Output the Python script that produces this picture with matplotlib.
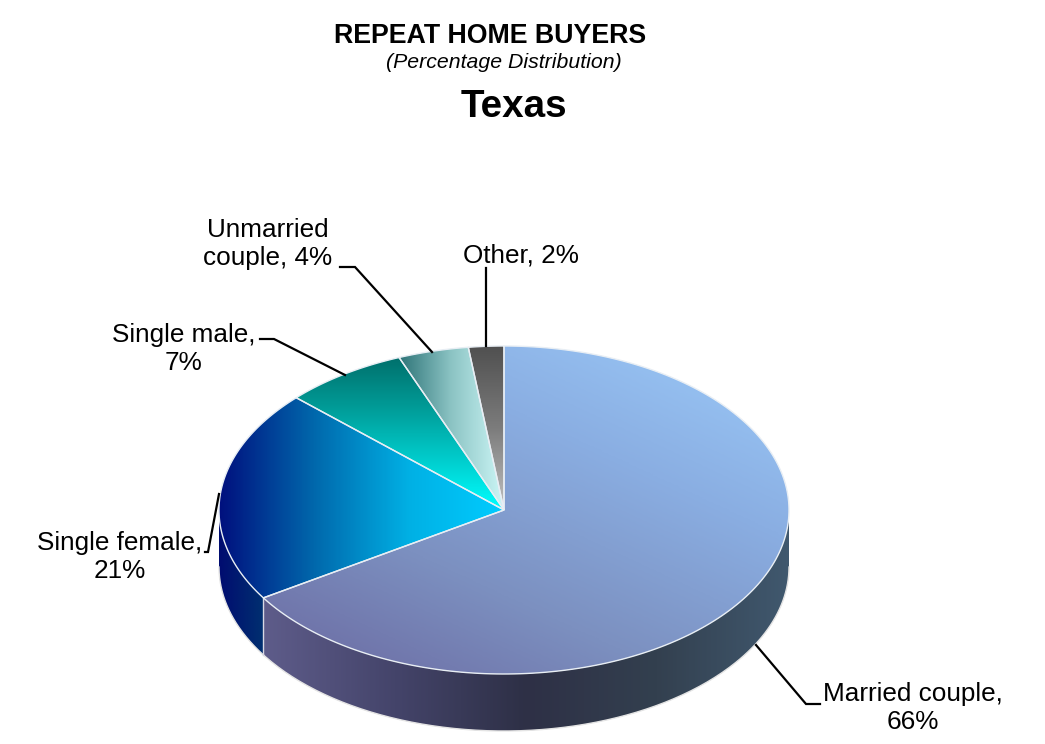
import numpy as np
import matplotlib
matplotlib.use('Agg')
import matplotlib.pyplot as plt
from matplotlib.colors import LinearSegmentedColormap
from matplotlib.patches import Polygon

plt.rcParams['font.family'] = ['Liberation Sans', 'DejaVu Sans']

categories = ['Married couple', 'Single female', 'Single male', 'Unmarried couple', 'Other']
percents = [66, 21, 7, 4, 2]
label_texts = ['Married couple,\n66%', 'Single female,\n21%', 'Single male,\n7%',
               'Unmarried\ncouple, 4%', 'Other, 2%']

CX, CY, RX, RY, DEPTH = 504, 510, 285, 164, 57

# gradient direction (dx, dy) and colours for the top of each slice
top_styles = [
    ((-0.6, 0.8), ['#9CCBFA', '#8AAEE2', '#7C90C0', '#6A68A0']),
    ((1, 0), ['#00107E', '#0068AC', '#00B0E4', '#00CCFF']),
    ((0, 1), ['#00706C', '#009C98', '#00CCCC', '#00FFFF']),
    ((1, 0), ['#2E7478', '#8CC4C4', '#CCF6F6']),
    ((0, 1), ['#505050', '#7C7C7C', '#C0C0C0']),
]
side_married = ['#5E5C8A', '#44446A', '#2E3046', '#33404F', '#40586E']
side_female = ['#000C70', '#003070']


def rim(a):
    return CX + RX * np.sin(a), CY - RY * np.cos(a)


def gradient(ax, clip, colors, direction, box):
    x0, x1, y0, y1 = box
    xx, yy = np.meshgrid(np.linspace(x0, x1, 300), np.linspace(y0, y1, 300))
    t = (xx - x0) / max(x1 - x0, 1) * direction[0] + (yy - y0) / max(y1 - y0, 1) * direction[1]
    t = (t - t.min()) / (t.max() - t.min())
    cmap = LinearSegmentedColormap.from_list('g', colors)
    im = ax.imshow(t, cmap=cmap, extent=(x0, x1, y1, y0), aspect='auto', zorder=2, interpolation='bilinear')
    im.set_clip_path(clip)


def main():
    fig = plt.figure(figsize=(10.45, 7.44), dpi=100)
    ax = fig.add_axes([0, 0, 1, 1])
    ax.axis('off')

    edges = np.concatenate(([0], np.cumsum(percents))) / sum(percents) * 2 * np.pi

    # side wall: only the part of the rim facing the viewer, pi/2 .. 3pi/2
    for a0, a1, cols in [(np.pi / 2, edges[1], side_married), (edges[1], 3 * np.pi / 2, side_female)]:
        a = np.linspace(a0, a1, 200)
        x, y = rim(a)
        pts = np.vstack((np.column_stack((x, y)), np.column_stack((x, y + DEPTH))[::-1]))
        wall = Polygon(pts, closed=True, fc='none', ec='none', transform=ax.transData)
        ax.add_patch(wall)
        gradient(ax, wall, cols, (1, 0),
                 (pts[:, 0].min(), pts[:, 0].max(), pts[:, 1].min(), pts[:, 1].max()))
        ax.plot(x, y + DEPTH, color='#E4E4E4', lw=1, zorder=3)

    # wall seam between married couple and single female
    sx, sy = rim(edges[1])
    ax.plot([sx, sx], [sy, sy + DEPTH], color='#D8D8E4', lw=1, zorder=3)

    # top slices
    for i in range(len(percents)):
        a = np.linspace(edges[i], edges[i + 1], 200)
        x, y = rim(a)
        pts = np.vstack(([CX, CY], np.column_stack((x, y))))
        wedge = Polygon(pts, closed=True, fc='none', ec='none', transform=ax.transData)
        ax.add_patch(wedge)
        direction, cols = top_styles[i]
        box = (pts[:, 0].min(), pts[:, 0].max(), pts[:, 1].min(), pts[:, 1].max())
        gradient(ax, wedge, cols, direction, box)
        ax.add_patch(Polygon(pts, closed=True, fc='none', ec='#E8EEF4', lw=1, zorder=4))

    # leader lines
    leaders = [([756, 806, 820], [645, 704, 704]),
               ([219, 208, 205], [494, 552, 552]),
               ([345, 274, 260], [375, 339, 339]),
               ([432, 355, 340], [352, 267, 267]),
               ([486, 486], [346, 268])]
    for lx, ly in leaders:
        ax.plot(lx, ly, color='black', lw=1.6, zorder=5, solid_joinstyle='miter')

    # labels
    ax.text(913, 708, label_texts[0], ha='center', va='center', fontsize=18.8, linespacing=1.25, zorder=6)
    ax.text(120, 557, label_texts[1], ha='center', va='center', fontsize=18.8, linespacing=1.2, zorder=6)
    ax.text(184, 349, label_texts[2], ha='center', va='center', fontsize=18.8, linespacing=1.2, zorder=6)
    ax.text(268, 244, label_texts[3], ha='center', va='center', fontsize=18.8, linespacing=1.25, zorder=6)
    ax.text(521, 256, label_texts[4], ha='center', va='center', fontsize=18.8, zorder=6)

    # titles
    ax.text(490, 36, 'REPEAT HOME BUYERS', ha='center', va='center', fontsize=19.3, fontweight='bold')
    ax.text(504, 62, '(Percentage Distribution)', ha='center', va='center', fontsize=15.3, style='italic')
    ax.text(514, 107, 'Texas', ha='center', va='center', fontsize=27.8, fontweight='bold')

    ax.set_xlim(0, 1045)
    ax.set_ylim(744, 0)
    fig.savefig('out.png', dpi=100, facecolor='white')


if __name__ == "__main__":
    main()
